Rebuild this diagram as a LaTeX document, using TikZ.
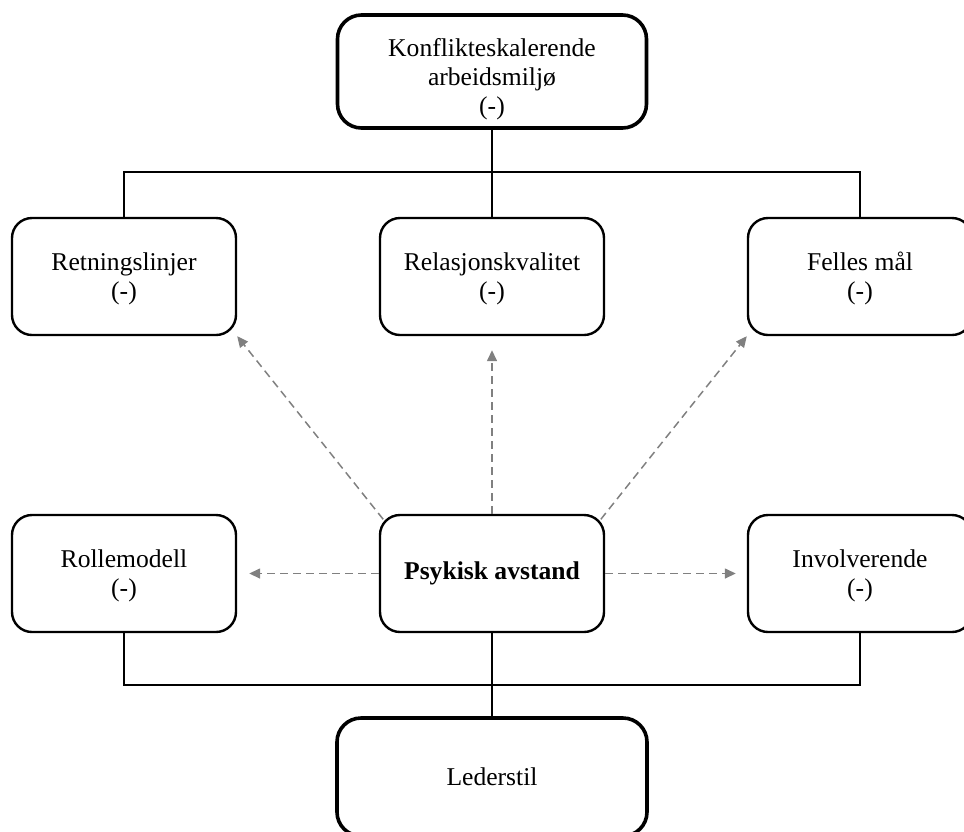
\documentclass[tikz,border=0pt]{standalone}
\usepackage{fontspec}
\setmainfont{Liberation Serif}
\usepackage{tikz}
\usetikzlibrary{arrows.meta}

\begin{document}
\begin{tikzpicture}[x=1pt, y=-1pt, node distance={368pt},
  box/.style={draw, rounded corners=20pt, line width=2.4pt, minimum width=224pt, minimum height=117pt, align=center, inner sep=0pt, font=\fontsize{25.6}{29}\selectfont},
  bigbox/.style={box, line width=3.6pt, rounded corners=24pt, minimum width=309pt, minimum height=113pt},
  link/.style={line width=2pt},
  effect/.style={draw=gray, line width=1.5pt, dash pattern=on 8pt off 5pt, -{Triangle[length=11pt, width=10pt]}}]
  \useasboundingbox (0,0) rectangle (964,831);

  \node[box] (psyk) at (492,573.5) {\textbf{Psykisk avstand}};
  \node[box] (rolle) [left of=psyk] {\rule{0pt}{22pt}Rollemodell\\(-)};
  \node[box] (invol) [right of=psyk] {\rule{0pt}{22pt}Involverende\\(-)};

  \node[box] (relasjon) at (492,276.5) {\rule{0pt}{22pt}Relasjonskvalitet\\(-)};
  \node[box] (retning) [left of=relasjon] {\rule{0pt}{22pt}Retningslinjer\\(-)};
  \node[box] (felles) [right of=relasjon] {\rule{0pt}{22pt}Felles mål\\(-)};

  \node[bigbox] (konflikt) at (492,71.5) {\rule{0pt}{34pt}Konflikteskalerende\\arbeidsmiljø\\(-)};
  \node[bigbox, minimum width=310pt, minimum height=118pt] (leder) at (492,777) {Lederstil};

  \coordinate (topbar) at (492,172);
  \coordinate (lowbar) at (492,685);

  \draw[link] (konflikt) to (relasjon);
  \draw[link] (retning) |- (topbar) -| (felles);
  \draw[link] (psyk) to (leder);
  \draw[link] (rolle) |- (lowbar) -| (invol);

  \draw[effect, shorten <=-7pt] (psyk.north west) to (retning.south east);
  \draw[effect, shorten >=14pt] (psyk) to (relasjon);
  \draw[effect, shorten <=-7pt] (psyk.north east) to (felles.south west);
  \draw[effect, shorten >=12pt] (psyk) to (rolle);
  \draw[effect, shorten >=11pt] (psyk) to (invol);
\end{tikzpicture}
\end{document}
